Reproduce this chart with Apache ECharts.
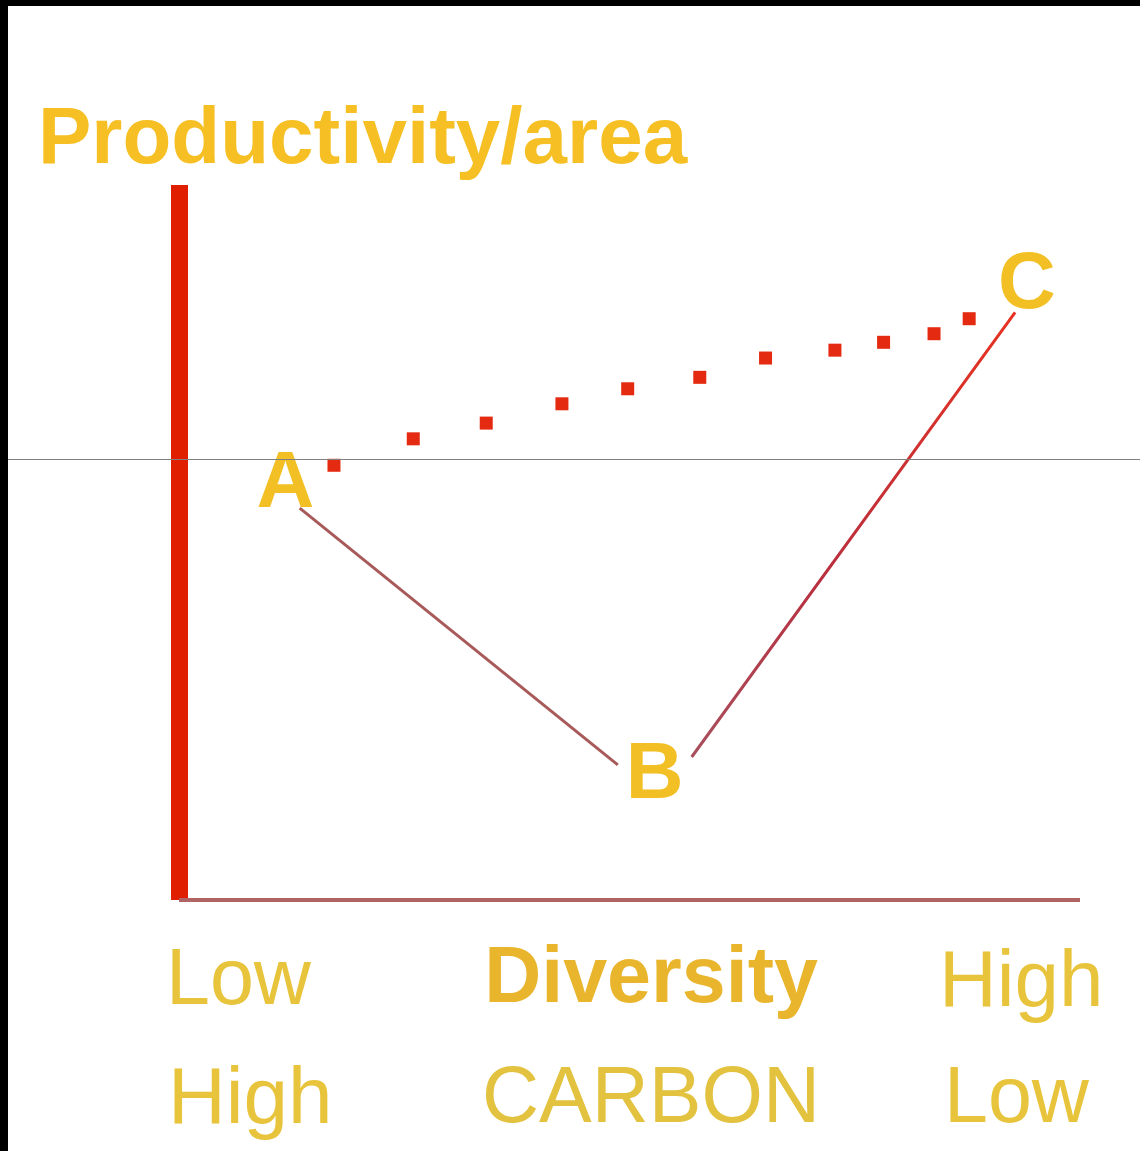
<!DOCTYPE html>
<html>
<head>
<meta charset="utf-8">
<script src="https://cdn.jsdelivr.net/npm/echarts@6/dist/echarts.min.js"></script>
<style>
html,body{margin:0;padding:0;background:#fff;}
#chart{width:1140px;height:1151px;}
</style>
</head>
<body>
<div id="chart"></div>
<script>
// Data (in arbitrary 0-100 units of the diagram)
const dotX = [17.2, 26.0, 34.1, 42.5, 49.8, 57.8, 65.1, 72.8, 78.2, 83.8, 87.7];
const dotY = [60.8, 64.5, 66.7, 69.4, 71.5, 73.1, 75.8, 76.9, 78.0, 79.2, 81.3];
const lineABx = [13.4, 48.7];
const lineABy = [54.8, 18.9];
const lineBCx = [56.9, 92.8];
const lineBCy = [20.0, 82.2];
const pointNames = ['A', 'B', 'C'];
const pointX = [11.8, 52.8, 94.1];
const pointY = [58.7, 18.0, 86.6];
const refLineY = 61.7;
const titleText = 'Productivity/area';
const diversityLabels = ['Low', 'Diversity', 'High'];
const carbonLabels = ['High', 'CARBON', 'Low'];

const FONT = '"Liberation Sans", Arial, sans-serif';
const chart = echarts.init(document.getElementById('chart'));

const zip = (xs, ys) => xs.map((x, i) => [x, ys[i]]);

const option = {
  backgroundColor: '#ffffff',
  animation: false,
  grid: { left: 179, right: 60, top: 185, bottom: 251, containLabel: false },
  xAxis: {
    type: 'value', min: 0, max: 100,
    axisLine: { show: true, lineStyle: { color: '#b06464', width: 4, cap: 'butt' } },
    axisTick: { show: false }, axisLabel: { show: false }, splitLine: { show: false }
  },
  yAxis: {
    type: 'value', min: 0, max: 100,
    axisLine: { show: true, lineStyle: { color: '#e01e00', width: 17, cap: 'butt' } },
    axisTick: { show: false }, axisLabel: { show: false }, splitLine: { show: false }
  },
  series: [
    {
      type: 'line', data: zip(lineABx, lineABy), showSymbol: false, symbol: 'none',
      lineStyle: { color: '#a85a5a', width: 3 }, z: 3
    },
    {
      type: 'line', data: zip(lineBCx, lineBCy), showSymbol: false, symbol: 'none',
      lineStyle: {
        width: 3,
        color: new echarts.graphic.LinearGradient(0, 1, 0, 0, [
          { offset: 0, color: '#a8505e' },
          { offset: 0.4, color: '#b83040' },
          { offset: 1, color: '#e83220' }
        ])
      }, z: 3
    },
    {
      type: 'scatter', data: zip(dotX, dotY), symbol: 'rect', symbolSize: 13,
      itemStyle: { color: '#e42a10', opacity: 1 }, z: 4
    },
    {
      type: 'scatter',
      data: pointNames.map((n, i) => ({ name: n, value: [pointX[i], pointY[i]] })),
      symbolSize: 1, itemStyle: { color: 'rgba(0,0,0,0)', opacity: 1 },
      label: {
        show: true, position: 'inside', formatter: '{b}', offset: [0, 5],
        fontFamily: FONT, fontWeight: 'bold', fontSize: 80, color: '#f2c024', opacity: 1
      }, z: 5
    }
  ],
  graphic: [
    { type: 'rect', shape: { x: 0, y: 0, width: 1140, height: 6 }, style: { fill: '#000' }, z: 100 },
    { type: 'rect', shape: { x: 0, y: 0, width: 8, height: 1151 }, style: { fill: '#000' }, z: 100 },
    { type: 'text', x: 38, y: 141, style: { text: titleText, font: 'bold 80px ' + FONT, fill: '#f6c025', textAlign: 'left', textVerticalAlign: 'middle' } },
    { type: 'text', x: 166, y: 982, style: { text: diversityLabels[0], font: '79px ' + FONT, fill: '#e8c43c', textAlign: 'left', textVerticalAlign: 'middle' } },
    { type: 'text', x: 651, y: 980, style: { text: diversityLabels[1], font: 'bold 79px ' + FONT, fill: '#e9b52c', textAlign: 'center', textVerticalAlign: 'middle' } },
    { type: 'text', x: 939, y: 984, style: { text: diversityLabels[2], font: '80px ' + FONT, fill: '#e8c43c', textAlign: 'left', textVerticalAlign: 'middle' } },
    { type: 'text', x: 168, y: 1101, style: { text: carbonLabels[0], font: '80px ' + FONT, fill: '#e8c43c', textAlign: 'left', textVerticalAlign: 'middle' } },
    { type: 'text', x: 651, y: 1100, style: { text: carbonLabels[1], font: '79px ' + FONT, fill: '#e2c23e', textAlign: 'center', textVerticalAlign: 'middle' } },
    { type: 'text', x: 944, y: 1100, style: { text: carbonLabels[2], font: '79px ' + FONT, fill: '#e8c43c', textAlign: 'left', textVerticalAlign: 'middle' } }
  ]
};
chart.setOption(option);

const refPy = Math.round(chart.convertToPixel({ yAxisIndex: 0 }, refLineY)) + 0.5;
chart.setOption({
  graphic: option.graphic.concat([
    { type: 'line', shape: { x1: 8, y1: refPy, x2: 1140, y2: refPy }, style: { stroke: '#808080', lineWidth: 1 }, z: 50 }
  ])
});
</script>
</body>
</html>
